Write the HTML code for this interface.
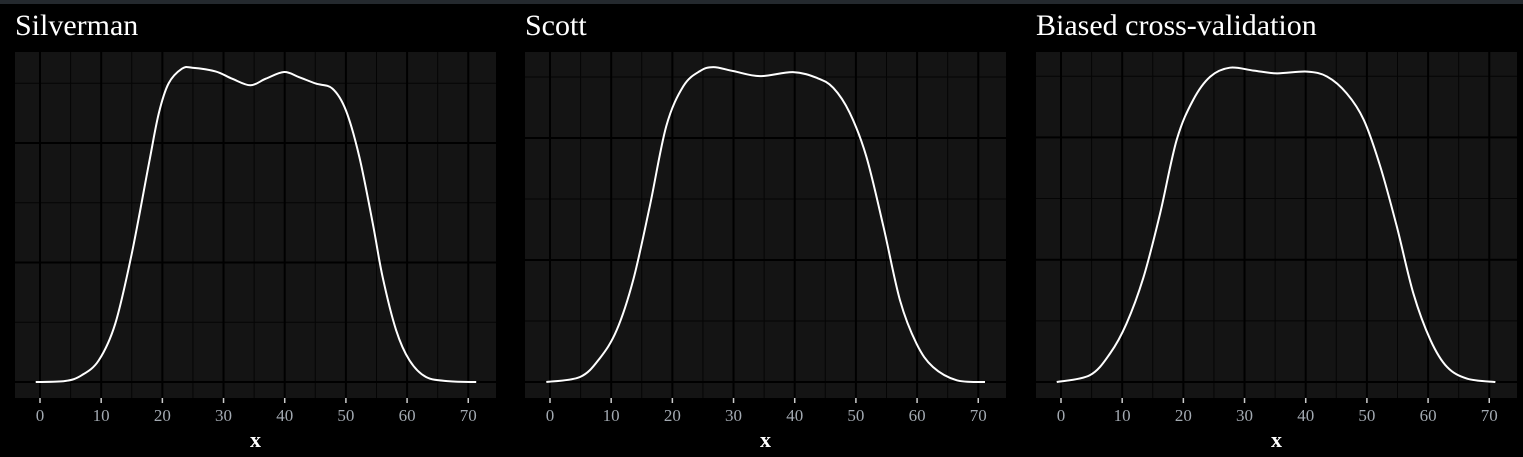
<!DOCTYPE html>
<html><head><meta charset="utf-8"><style>
html,body{margin:0;padding:0;background:#000;width:1523px;height:457px;overflow:hidden}
svg{display:block}
</style></head><body>
<svg id="chart" width="1523" height="457" xmlns="http://www.w3.org/2000/svg">
<rect x="0" y="0" width="1523" height="4" fill="#24292e"/>
</svg>
<script>
const titles = ["Silverman","Scott","Biased cross-validation"];
const xTicks = [0,10,20,30,40,50,60,70];
const xTickLabels = ["0","10","20","30","40","50","60","70"];
// densities in thousandths
const silvermanX = [-0.7,4.1,6.8,9.6,12.3,15,17.8,19.4,21,23.2,24.9,28.7,31.4,34.4,36.9,39.9,42.3,45.1,47.8,50,52.2,54.4,56,58.2,60.4,63.1,66.9,71.3];
const silvermanY = [0,0.08,0.56,1.81,4.88,10.74,18.27,22.45,24.97,26.22,26.3,25.99,25.38,24.83,25.38,25.94,25.52,24.97,24.55,22.73,18.83,13.25,8.79,4.35,1.81,0.42,0.06,0];
const scottX = [-0.6,4.9,8.1,10.9,13.6,16.3,19,21.8,24.5,26.7,30,34.3,39.7,43.6,46.3,49,51.7,54.5,57.2,59.9,62.6,66.5,71.1];
const scottY = [0,0.41,1.92,4.25,8.36,14.38,20.96,24.25,25.48,25.81,25.48,25.07,25.4,24.93,24.11,22.05,18.49,12.74,6.71,3.15,1.23,0.14,0];
const bcvX = [-0.7,4.7,8,10.7,13.5,16.2,18.9,21.6,24.4,27.6,31.5,35.3,40.2,43.5,46.7,49.5,52.2,54.9,57.6,60.4,63.1,66.4,71];
const bcvY = [0,0.55,2.32,4.77,8.59,13.78,19.78,23.06,24.97,25.7,25.46,25.24,25.38,24.97,23.6,21.42,17.6,12.69,7.23,3.42,1.23,0.27,0];
const seriesX=[silvermanX,scottX,bcvX], seriesY=[silvermanY,scottY,bcvY];
const NS="http://www.w3.org/2000/svg";
const svg=document.getElementById('chart');
const panelLeft=[15,525,1036], PW=481, PT=52, PB=398, base=382;
const pxPerTen=[119.5,122,122.3];
function mk(t,a,p){const e=document.createElementNS(NS,t);for(const k in a)e.setAttribute(k,a[k]);(p||svg).appendChild(e);return e;}
for(let p=0;p<3;p++){
  const L=panelLeft[p];
  const xs=v=>L+25+v*6.118;
  const ys=v=>base-v*pxPerTen[p]/10;
  const g=mk('g',{});
  
  
  const t=mk('text',{x:L,y:35,fill:'#fff','font-family':'Liberation Serif, serif','font-size':30},g);
  t.textContent=titles[p];
  
  
  const bg=mk('rect',{x:L,y:PT,width:PW,height:PB-PT,fill:'#141414'},g);
  
  
  for(let v=5;v<=65;v+=10){const l=mk('line',{x1:xs(v),x2:xs(v),y1:PT,y2:PB,stroke:'#050505','stroke-width':1},g);
    }
  for(let k=0;k<=25;k+=5){const y=ys(k);if(y<PT)break;const maj=k%10===0;
    const l=mk('line',{x1:L,x2:L+PW,y1:y,y2:y,stroke:maj?'#000':'#050505','stroke-width':maj?2:1},g);
    }
  xTicks.forEach((v,i)=>{
    const l=mk('line',{x1:xs(v),x2:xs(v),y1:PT,y2:PB,stroke:'#000','stroke-width':2},g);
    
    const tk=mk('line',{x1:xs(v),x2:xs(v),y1:PB,y2:PB+5,stroke:'#ccc','stroke-width':1.5},g);
    
    const tl=mk('text',{x:xs(v),y:421,fill:'#a3aab2','font-family':'Liberation Serif, serif','font-size':17,'text-anchor':'middle'},g);
    tl.textContent=xTickLabels[i];
    
  });
  const xl=mk('text',{x:L+PW/2,y:447,fill:'#fff','font-family':'Liberation Serif, serif','font-size':22,'font-weight':'bold','text-anchor':'middle'},g);
  xl.textContent='x';
  
  const P=seriesX[p].map((v,i)=>[xs(v),ys(seriesY[p][i])]);
  let d='M'+P[0][0]+','+P[0][1];
  for(let i=0;i<P.length-1;i++){
    const p0=P[Math.max(0,i-1)],p1=P[i],p2=P[i+1],p3=P[Math.min(P.length-1,i+2)];
    const c1=[p1[0]+(p2[0]-p0[0])/6,p1[1]+(p2[1]-p0[1])/6];
    const c2=[p2[0]-(p3[0]-p1[0])/6,p2[1]-(p3[1]-p1[1])/6];
    d+=` C${c1[0]},${c1[1]} ${c2[0]},${c2[1]} ${p2[0]},${p2[1]}`;
  }
  const path=mk('path',{d:d,fill:'none',stroke:'#fff','stroke-width':2},g);
  
  
}
</script>
</body></html>
